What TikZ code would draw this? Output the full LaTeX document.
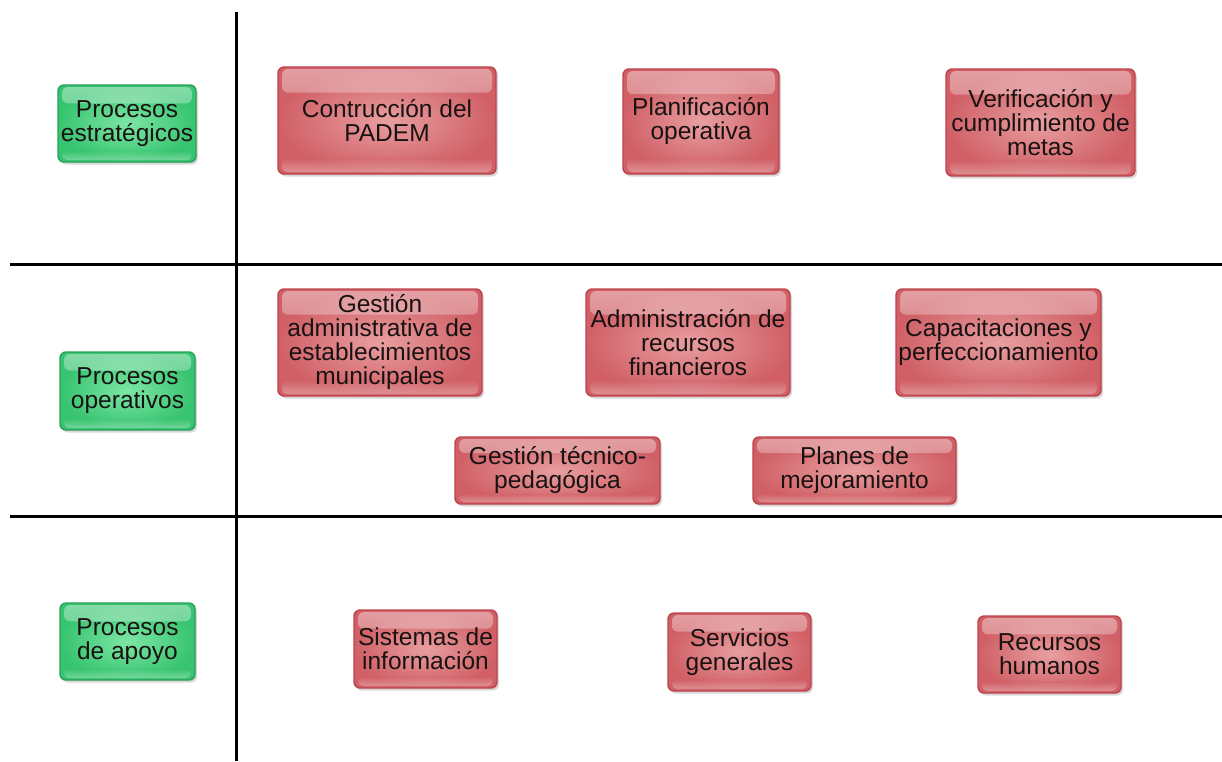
\documentclass[tikz,border=0pt]{standalone}
\usepackage{fontspec}
\setmainfont{Liberation Sans}
\usetikzlibrary{shadows,calc}

\definecolor{redEdge}{RGB}{190,66,76}
\definecolor{redIn}{RGB}{232,158,160}
\definecolor{redOut}{RGB}{208,96,102}
\definecolor{greenEdge}{RGB}{40,160,90}
\definecolor{greenIn}{RGB}{125,230,165}
\definecolor{greenOut}{RGB}{55,196,112}
\definecolor{ink}{RGB}{25,18,18}

\tikzset{
  divider/.style={line width=3pt, black},
  glossy/.style n args={3}{
    draw=#1, line width=1.4pt, rounded corners=6pt,
    inner color=#2, outer color=#3,
    align=center, text=ink, inner sep=2pt,
    font=\fontsize{24.5}{24}\selectfont,
    drop shadow={opacity=0.3, shadow xshift=2pt, shadow yshift=-2.5pt},
    path picture={
      \shade[top color=white, bottom color=#3, opacity=0.4, rounded corners=6pt]
        ($(path picture bounding box.north west)+(4pt,-2pt)$) rectangle
        ($(path picture bounding box.north east)!0.24!(path picture bounding box.south east)+(-4pt,0)$);
      \shade[top color=#3, bottom color=white, opacity=0.3, rounded corners=5pt]
        ($(path picture bounding box.south west)!0.15!(path picture bounding box.north west)+(4pt,0)$) rectangle
        ($(path picture bounding box.south east)+(-4pt,2pt)$);
    }
  },
  redbox/.style={glossy={redEdge}{redIn}{redOut}},
  greenbox/.style={glossy={greenEdge}{greenIn}{greenOut}},
}

\begin{document}
\begin{tikzpicture}[x=1pt,y=-1pt]
  \useasboundingbox[fill=white] (0,0) rectangle (1222,761);

  % grid separating the three process levels
  \coordinate (vtop) at (236,12);
  \coordinate (vbot) at (236,761);
  \coordinate (h1l) at (10,264);
  \coordinate (h1r) at (1222,264);
  \coordinate (h2l) at (10,516);
  \coordinate (h2r) at (1222,516);
  \draw[divider] (vtop) -- (vbot);
  \draw[divider] (h1l) -- (h1r);
  \draw[divider] (h2l) -- (h2r);

  % row labels
  \node[greenbox, minimum width=138pt, minimum height=77pt] (lestr) at (127,123.5) {Procesos\\estratégicos};
  \node[greenbox, minimum width=135pt, minimum height=78pt] (loper) at (127.5,391) {Procesos\\operativos};
  \node[greenbox, minimum width=135pt, minimum height=77pt] (lapoyo) at (127.5,641.5) {Procesos\\de apoyo};

  % strategic processes
  \node[redbox, minimum width=218pt, minimum height=107pt] (padem) at (387,120.5) {Contrucción del\\PADEM};
  \node[redbox, minimum width=156pt, minimum height=105pt] (plan) at (701,121.5) {Planificación\\operativa};
  \node[redbox, minimum width=189pt, minimum height=107pt] (verif) at (1040.5,122.5) {Verificación y\\cumplimiento de\\metas};

  % operational processes
  \node[redbox, minimum width=204pt, minimum height=107pt] (gadm) at (380,342.5) {Gestión\\administrativa de\\establecimientos\\municipales};
  \node[redbox, minimum width=204pt, minimum height=107pt] (admrec) at (688,342.5) {Administración de\\recursos\\financieros};
  \node[redbox, minimum width=205pt, minimum height=107pt] (capac) at (998.5,342.5) {Capacitaciones y\\perfeccionamiento};
  \node[redbox, minimum width=205pt, minimum height=67pt] (gtp) at (557.5,470.5) {Gestión técnico-\\pedagógica};
  \node[redbox, minimum width=203pt, minimum height=67pt] (planes) at (854.5,470.5) {Planes de\\mejoramiento};

  % support processes
  \node[redbox, minimum width=143pt, minimum height=78pt] (sist) at (425.5,649) {Sistemas de\\información};
  \node[redbox, minimum width=143pt, minimum height=78pt] (serv) at (739.5,652) {Servicios\\generales};
  \node[redbox, minimum width=143pt, minimum height=77pt] (rrhh) at (1049.5,654.5) {Recursos\\humanos};
\end{tikzpicture}
\end{document}
